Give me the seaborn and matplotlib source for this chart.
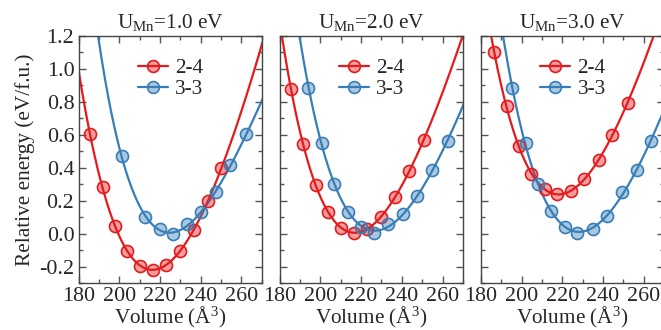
import numpy as np
import pandas as pd
import matplotlib
matplotlib.use("Agg")
import matplotlib.pyplot as plt
import seaborn as sns
from matplotlib.lines import Line2D
from matplotlib.ticker import MultipleLocator, FormatStrFormatter
from matplotlib.colors import to_rgba

# ---------------- data ----------------
panel_titles = ["1.0", "2.0", "3.0"]
series_names = ["2-4", "3-3"]

vol_24_u1 = [185.6, 191.8, 197.9, 204.0, 210.2, 216.7, 223.2, 229.8, 236.6, 243.5, 250.2]
e_24_u1 = [0.606, 0.280, 0.048, -0.105, -0.198, -0.220, -0.188, -0.103, 0.020, 0.195, 0.398]
vol_33_u1 = [201.2, 212.9, 220.0, 226.5, 233.5, 240.4, 247.7, 254.6, 262.5]
e_33_u1 = [0.469, 0.101, 0.028, -0.002, 0.061, 0.132, 0.253, 0.418, 0.604]

vol_24_u2 = [185.5, 191.6, 197.6, 203.8, 210.0, 216.4, 223.1, 229.7, 236.6, 243.4, 250.9]
e_24_u2 = [0.877, 0.544, 0.297, 0.129, 0.035, 0.004, 0.028, 0.101, 0.222, 0.378, 0.570]
vol_33_u2 = [194.0, 200.9, 206.8, 213.4, 219.9, 226.4, 233.2, 240.6, 247.5, 255.0, 262.6]
e_33_u2 = [0.887, 0.553, 0.303, 0.131, 0.038, 0.002, 0.061, 0.119, 0.226, 0.388, 0.565]

vol_24_u3 = [186.5, 192.9, 198.6, 204.5, 211.4, 217.5, 224.1, 230.8, 238.0, 244.5, 252.1]
e_24_u3 = [1.101, 0.772, 0.529, 0.364, 0.271, 0.241, 0.256, 0.331, 0.448, 0.600, 0.792]
vol_33_u3 = [195.3, 202.1, 208.1, 214.6, 221.2, 227.4, 234.9, 242.1, 249.2, 256.5, 263.8]
e_33_u3 = [0.887, 0.550, 0.303, 0.135, 0.038, 0.004, 0.028, 0.109, 0.250, 0.388, 0.564]

x_ticks = [180, 200, 220, 240, 260]
y_ticks = [-0.2, 0.0, 0.2, 0.4, 0.6, 0.8, 1.0, 1.2]

panels = [
    {"2-4": (vol_24_u1, e_24_u1), "3-3": (vol_33_u1, e_33_u1)},
    {"2-4": (vol_24_u2, e_24_u2), "3-3": (vol_33_u2, e_33_u2)},
    {"2-4": (vol_24_u3, e_24_u3), "3-3": (vol_33_u3, e_33_u3)},
]

colors = {"2-4": "#e41a1c", "3-3": "#377eb8"}


def bm_fit(v, e, vgrid):
    """Third-order Birch-Murnaghan fit (linear in V^(-2/3))."""
    x = np.asarray(v) ** (-2.0 / 3.0)
    coef = np.polyfit(x, np.asarray(e), 3)
    return np.polyval(coef, vgrid ** (-2.0 / 3.0))


# ---------------- style ----------------
sns.set_style("ticks")
plt.rcParams["font.family"] = ["Liberation Serif", "DejaVu Serif"]
plt.rcParams["mathtext.fontset"] = "custom"
plt.rcParams["mathtext.rm"] = "Liberation Serif"
plt.rcParams["mathtext.it"] = "Liberation Serif:italic"
plt.rcParams["axes.unicode_minus"] = False

FS = 15.3
FS_TICK = 15.8
fig = plt.figure(figsize=(6.61, 3.30), dpi=100)

W, H = 661.0, 330.0
ax_w = 183.2 / W
ax_h = (283 - 36) / H
bottom = 1 - 283 / H
lefts = [78.5 / W, 279.7 / W, 480.8 / W]

vgrid = np.linspace(175, 275, 600)

for i, (left, pdata, ut) in enumerate(zip(lefts, panels, panel_titles)):
    ax = fig.add_axes([left, bottom, ax_w, ax_h])
    for name in series_names:
        v, e = pdata[name]
        efit = bm_fit(v, e, vgrid)
        sns.lineplot(x=vgrid, y=efit, color=colors[name], linewidth=1.6,
                     ax=ax, sort=False, estimator=None, zorder=2)
    for name in series_names:
        v, e = pdata[name]
        sns.scatterplot(x=v, y=e, color=colors[name], s=75, ax=ax,
                        linewidth=1.2, zorder=3)
        coll = ax.collections[-1]
        coll.set_facecolor(to_rgba(colors[name], 0.42))
        coll.set_edgecolor(colors[name])

    ax.set_xlim(180, 270)
    ax.set_ylim(-0.3, 1.2)
    ax.set_xticks(x_ticks)
    ax.set_yticks(y_ticks)
    ax.xaxis.set_minor_locator(MultipleLocator(10))
    ax.yaxis.set_minor_locator(MultipleLocator(0.1))
    ax.yaxis.set_major_formatter(FormatStrFormatter("%.1f"))
    ax.tick_params(which="both", direction="in", top=True, right=True,
                   color="#555555", width=1.0, labelsize=FS_TICK)
    ax.tick_params(which="major", length=5, pad=3)
    ax.tick_params(which="minor", length=3)
    for sp in ax.spines.values():
        sp.set_color("#444444")
        sp.set_linewidth(1.0)
    if i > 0:
        ax.set_yticklabels([])
        ax.set_ylabel("")
    else:
        ax.set_ylabel("Relative energy (eV/f.u.)", fontsize=FS, labelpad=3)
    ax.set_xlabel("Volume (Å$^3$)", fontsize=FS, labelpad=-1)
    ax.set_title(r"U$_{\rm Mn}$=" + ut + " eV", fontsize=FS, pad=6)

    handles = [Line2D([], [], color=colors[n], lw=1.6, marker="o", markersize=8.5,
                      markerfacecolor=to_rgba(colors[n], 0.42),
                      markeredgecolor=colors[n], markeredgewidth=1.2)
               for n in series_names]
    ax.legend(handles, series_names, loc="upper left", bbox_to_anchor=(0.325, 0.91),
              frameon=False, fontsize=FS, borderpad=0, borderaxespad=0,
              handlelength=1.4, handletextpad=0.35, labelspacing=0.05)

fig.savefig("out.png", dpi=100)
